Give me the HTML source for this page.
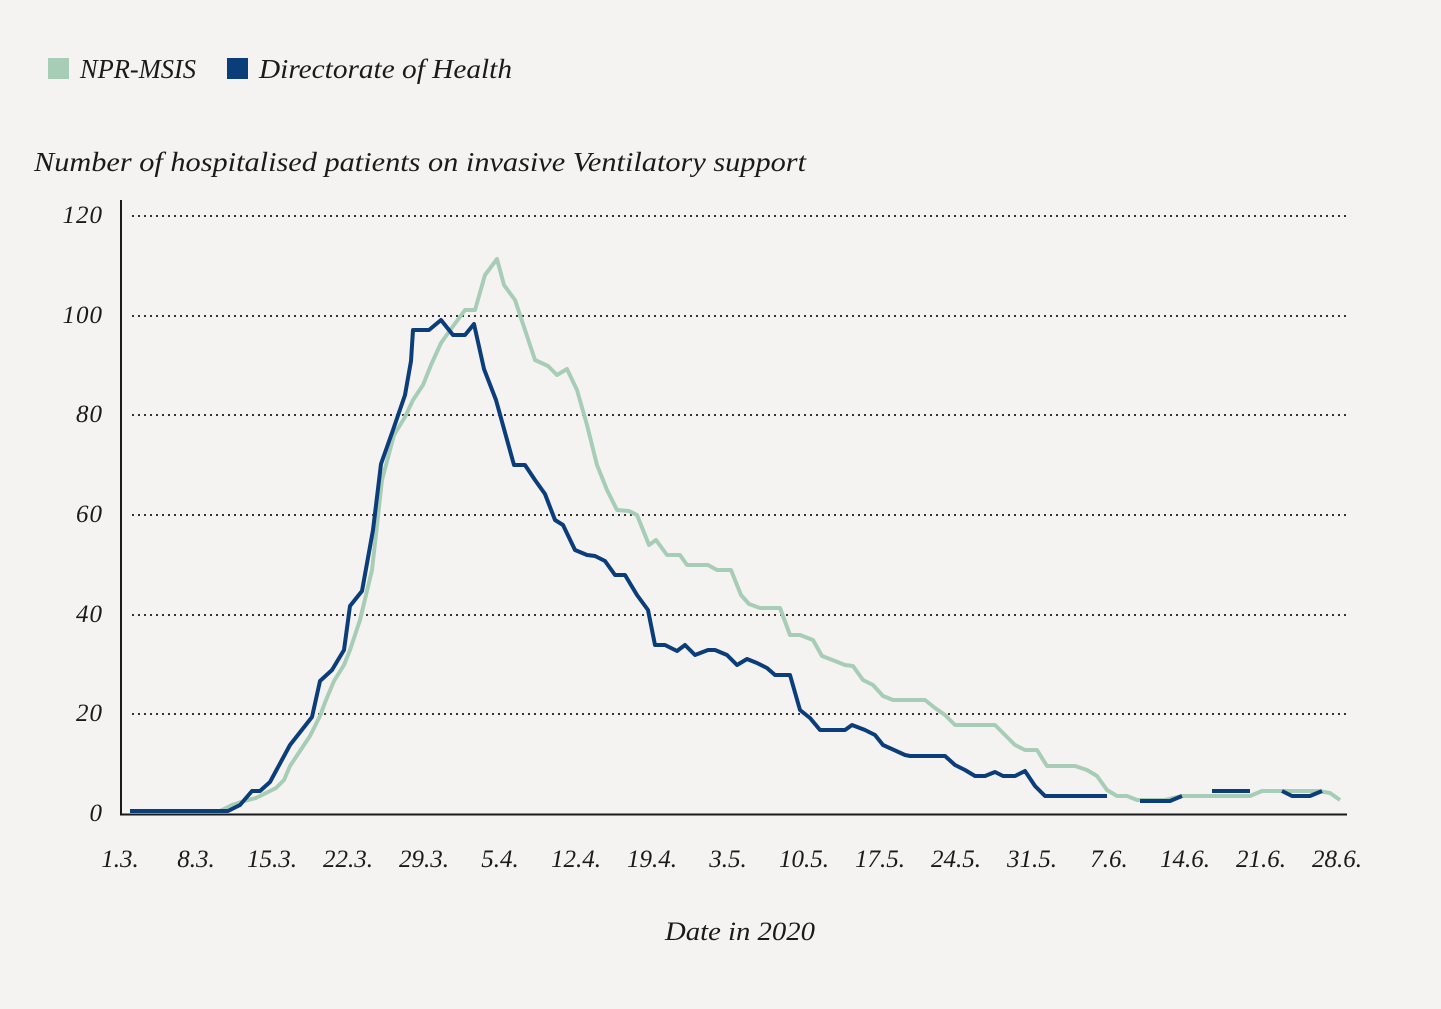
<!DOCTYPE html>
<html><head><meta charset="utf-8"><style>
html,body{margin:0;padding:0;background:#f4f3f1;}
svg text{font-family:"Liberation Serif",serif;font-style:italic;fill:#1a1a1a;}
</style></head><body>
<svg width="1441" height="1004" viewBox="0 0 1441 1004" xmlns="http://www.w3.org/2000/svg">
<rect width="1441" height="1004" fill="#f4f3f1"/>
<rect x="48" y="58" width="21" height="21" fill="#a8cdb7"/>
<text x="80" y="78" font-size="27" textLength="116" lengthAdjust="spacingAndGlyphs">NPR-MSIS</text>
<rect x="227" y="58" width="21" height="21" fill="#0b3d7a"/>
<text x="259" y="78" font-size="27" textLength="253" lengthAdjust="spacingAndGlyphs">Directorate of Health</text>
<text x="34" y="171" font-size="27" textLength="772" lengthAdjust="spacingAndGlyphs">Number of hospitalised patients on invasive Ventilatory support</text>
<g stroke="#333" stroke-width="2" stroke-dasharray="2,4">
<line x1="132" x2="1347" y1="216" y2="216"/><line x1="132" x2="1347" y1="316" y2="316"/>
<line x1="132" x2="1347" y1="415" y2="415"/><line x1="132" x2="1347" y1="515" y2="515"/>
<line x1="132" x2="1347" y1="615" y2="615"/><line x1="132" x2="1347" y1="714" y2="714"/>
</g>
<g font-size="25" text-anchor="end" letter-spacing="1">
<text x="103" y="223">120</text><text x="103" y="323">100</text><text x="103" y="422">80</text>
<text x="103" y="522">60</text><text x="103" y="622">40</text><text x="103" y="721">20</text><text x="103" y="821">0</text>
</g>
<g font-size="25" text-anchor="middle">
<text x="120" y="867">1.3.</text><text x="196" y="867">8.3.</text><text x="272" y="867">15.3.</text>
<text x="348" y="867">22.3.</text><text x="424" y="867">29.3.</text><text x="500" y="867">5.4.</text>
<text x="576" y="867">12.4.</text><text x="652" y="867">19.4.</text><text x="728" y="867">3.5.</text>
<text x="804" y="867">10.5.</text><text x="880" y="867">17.5.</text><text x="956" y="867">24.5.</text>
<text x="1032" y="867">31.5.</text><text x="1109" y="867">7.6.</text><text x="1185" y="867">14.6.</text>
<text x="1261" y="867">21.6.</text><text x="1337" y="867">28.6.</text>
</g>
<text x="740" y="940" font-size="26" text-anchor="middle" textLength="150" lengthAdjust="spacingAndGlyphs">Date in 2020</text>
<g fill="none" stroke-width="4" stroke-linejoin="round">
<polyline stroke="#a8cdb7" points="130,811 220,811 232,805 244,801 256,798 266,793 276,788 284,780 290,766 300,751 310,736 320,716 326,700 334,681 344,665 350,650 360,620 372,570 382,480 394,435 405,417 413,400 423,385 431,365 441,343 451,329 465,310 475,310 485,275 497,259 504,285 515,300 525,330 535,360 548,366 557,375 567,369 577,390 587,425 597,465 607,490 617,510 629,511 637,515 649,545 656,540 667,555 680,555 687,565 708,565 717,570 731,570 741,595 749,604 760,608 780,608 790,635 800,635 813,640 822,656 835,661 845,665 853,666 863,680 873,685 883,696 893,700 925,700 935,708 945,715 955,725 995,725 1005,735 1015,745 1025,750 1037,750 1047,766 1075,766 1087,770 1097,776 1107,790 1117,796 1127,796 1137,800 1165,800 1182,796 1250,796 1262,791 1280,791 1318,791 1330,793 1340,800"/>
<polyline stroke="#0b3d7a" points="130,811 228,811 240,805 252,791 260,791 270,782 290,745 312,717 320,681 332,670 344,650 350,606 362,591 373,530 381,464 393,430 405,395 411,361 413,330 423,330 429,330 441,320 453,335 465,335 474,324 484,369 496,400 514,465 525,465 535,480 545,494 555,520 563,525 575,550 587,555 595,556 605,561 615,575 625,575 637,595 648,610 655,645 665,645 677,651 685,645 695,655 708,650 715,650 727,655 737,665 747,659 757,663 767,668 775,675 790,675 800,710 810,718 820,730 845,730 852,725 865,730 875,735 883,745 905,755 910,756 945,756 955,765 965,770 975,776 985,776 995,772 1003,776 1015,776 1025,771 1035,786 1045,796 1107,796"/>
<polyline stroke="#0b3d7a" points="1140,801 1170,801 1182,796"/>
<polyline stroke="#0b3d7a" points="1212,791 1250,791"/>
<polyline stroke="#0b3d7a" points="1282,791 1292,796 1310,796 1322,791"/>
</g>
<line x1="121" y1="200" x2="121" y2="815" stroke="#1a1a1a" stroke-width="2"/>
<line x1="120" y1="814.5" x2="1347" y2="814.5" stroke="#1a1a1a" stroke-width="2"/>
</svg>
</body></html>
